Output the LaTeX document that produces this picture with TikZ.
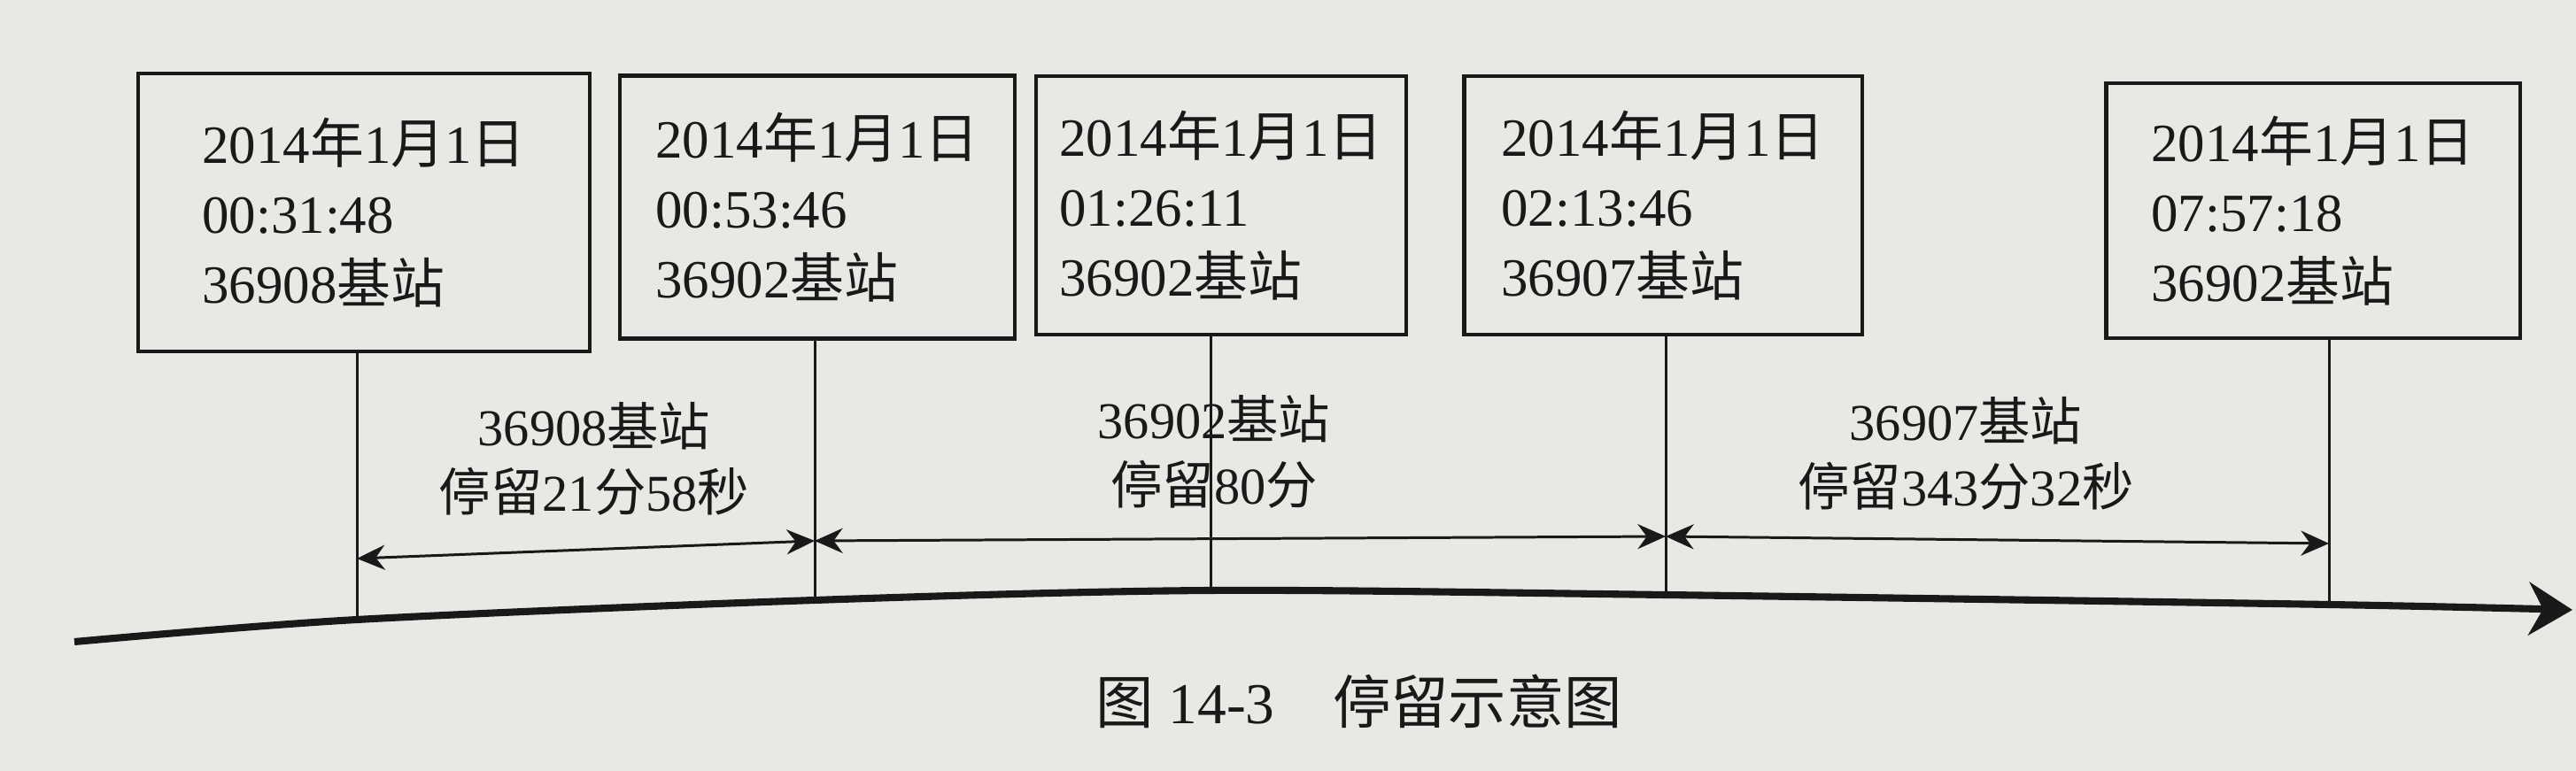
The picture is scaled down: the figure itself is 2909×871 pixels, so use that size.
\documentclass[tikz,border=0pt]{standalone}
\usepackage{fontspec}
\setmainfont{Liberation Serif}
\newfontfamily\cjk{Noto Sans CJK SC}
\newcommand{\zh}[1]{{\cjk #1}}
\usetikzlibrary{arrows.meta, calc}
\definecolor{paper}{RGB}{232,232,229}
\definecolor{ink}{RGB}{25,25,25}
\tikzstyle{record} = [rectangle, draw=ink, line width=1.2pt, align=left, text=ink, font=\fontsize{17.3}{22.5}\selectfont]
\tikzstyle{stay} = [align=center, text=ink, font=\fontsize{16.6}{21}\selectfont]
\tikzstyle{tick} = [ink, line width=0.85pt]
\tikzstyle{myarrow} = [<->, >={Stealth[length=9pt,width=8pt]}, ink, line width=0.85pt]
\tikzstyle{timeaxis} = [-{Stealth[length=14pt,width=17pt]}, ink, line width=2.3pt]

\begin{document}
\begin{tikzpicture}[x=0.01cm, y=-0.01cm]
\fill[paper] (0,0) rectangle (2909,871);
\useasboundingbox (0,0) rectangle (2909,871);

% records
\node(box1)[record, minimum width=5.09cm, minimum height=3.14cm] at (411,240) {2014\zh{年}1\zh{月}1\zh{日}\\00:31:48\\36908\zh{基站}};
\node(box2)[record, minimum width=4.46cm, minimum height=2.97cm] at (923,234) {2014\zh{年}1\zh{月}1\zh{日}\\00:53:46\\36902\zh{基站}};
\node(box3)[record, minimum width=4.18cm, minimum height=2.92cm] at (1379,232) {2014\zh{年}1\zh{月}1\zh{日}\\01:26:11\\36902\zh{基站}};
\node(box4)[record, minimum width=4.49cm, minimum height=2.92cm] at (1878,232) {2014\zh{年}1\zh{月}1\zh{日}\\02:13:46\\36907\zh{基站}};
\node(box5)[record, minimum width=4.67cm, minimum height=2.88cm] at (2612,238) {2014\zh{年}1\zh{月}1\zh{日}\\07:57:18\\36902\zh{基站}};

% time axis
\coordinate (a0) at (84,725);
\coordinate (t1) at (403,700);
\coordinate (t2) at (920,678);
\coordinate (t3) at (1367,667);
\coordinate (t4) at (1881,672);
\coordinate (t5) at (2630,683);
\coordinate (a1) at (2905,689);
\draw[timeaxis] plot[smooth] coordinates {(a0) (t1) (t2) (t3) (t4) (t5) (a1)};

\draw[tick] (t1) -- (t1 |- box1.south);
\draw[tick] (t2) -- (t2 |- box2.south);
\draw[tick] (t3) -- (t3 |- box3.south);
\draw[tick] (t4) -- (t4 |- box4.south);
\draw[tick] (t5) -- (t5 |- box5.south);

% stays
\coordinate (d1) at (403,631);
\coordinate (d2) at (920,611);
\coordinate (d4) at (1881,606);
\coordinate (d5) at (2630,614);
\draw[myarrow] (d1) -- (d2);
\draw[myarrow] (d2) -- (d4);
\draw[myarrow] (d4) -- (d5);

\node(stay1)[stay] at (671,518) {36908\zh{基站}\\\zh{停留}21\zh{分}58\zh{秒}};
\node(stay2)[stay] at (1371,510) {36902\zh{基站}\\\zh{停留}80\zh{分}};
\node(stay3)[stay] at (2220,512) {36907\zh{基站}\\\zh{停留}343\zh{分}32\zh{秒}};

\node(caption)[text=ink, font=\fontsize{18.6}{21}\selectfont] at (1535,792) {\zh{图} 14-3\quad\zh{停留示意图}};
\end{tikzpicture}
\end{document}
